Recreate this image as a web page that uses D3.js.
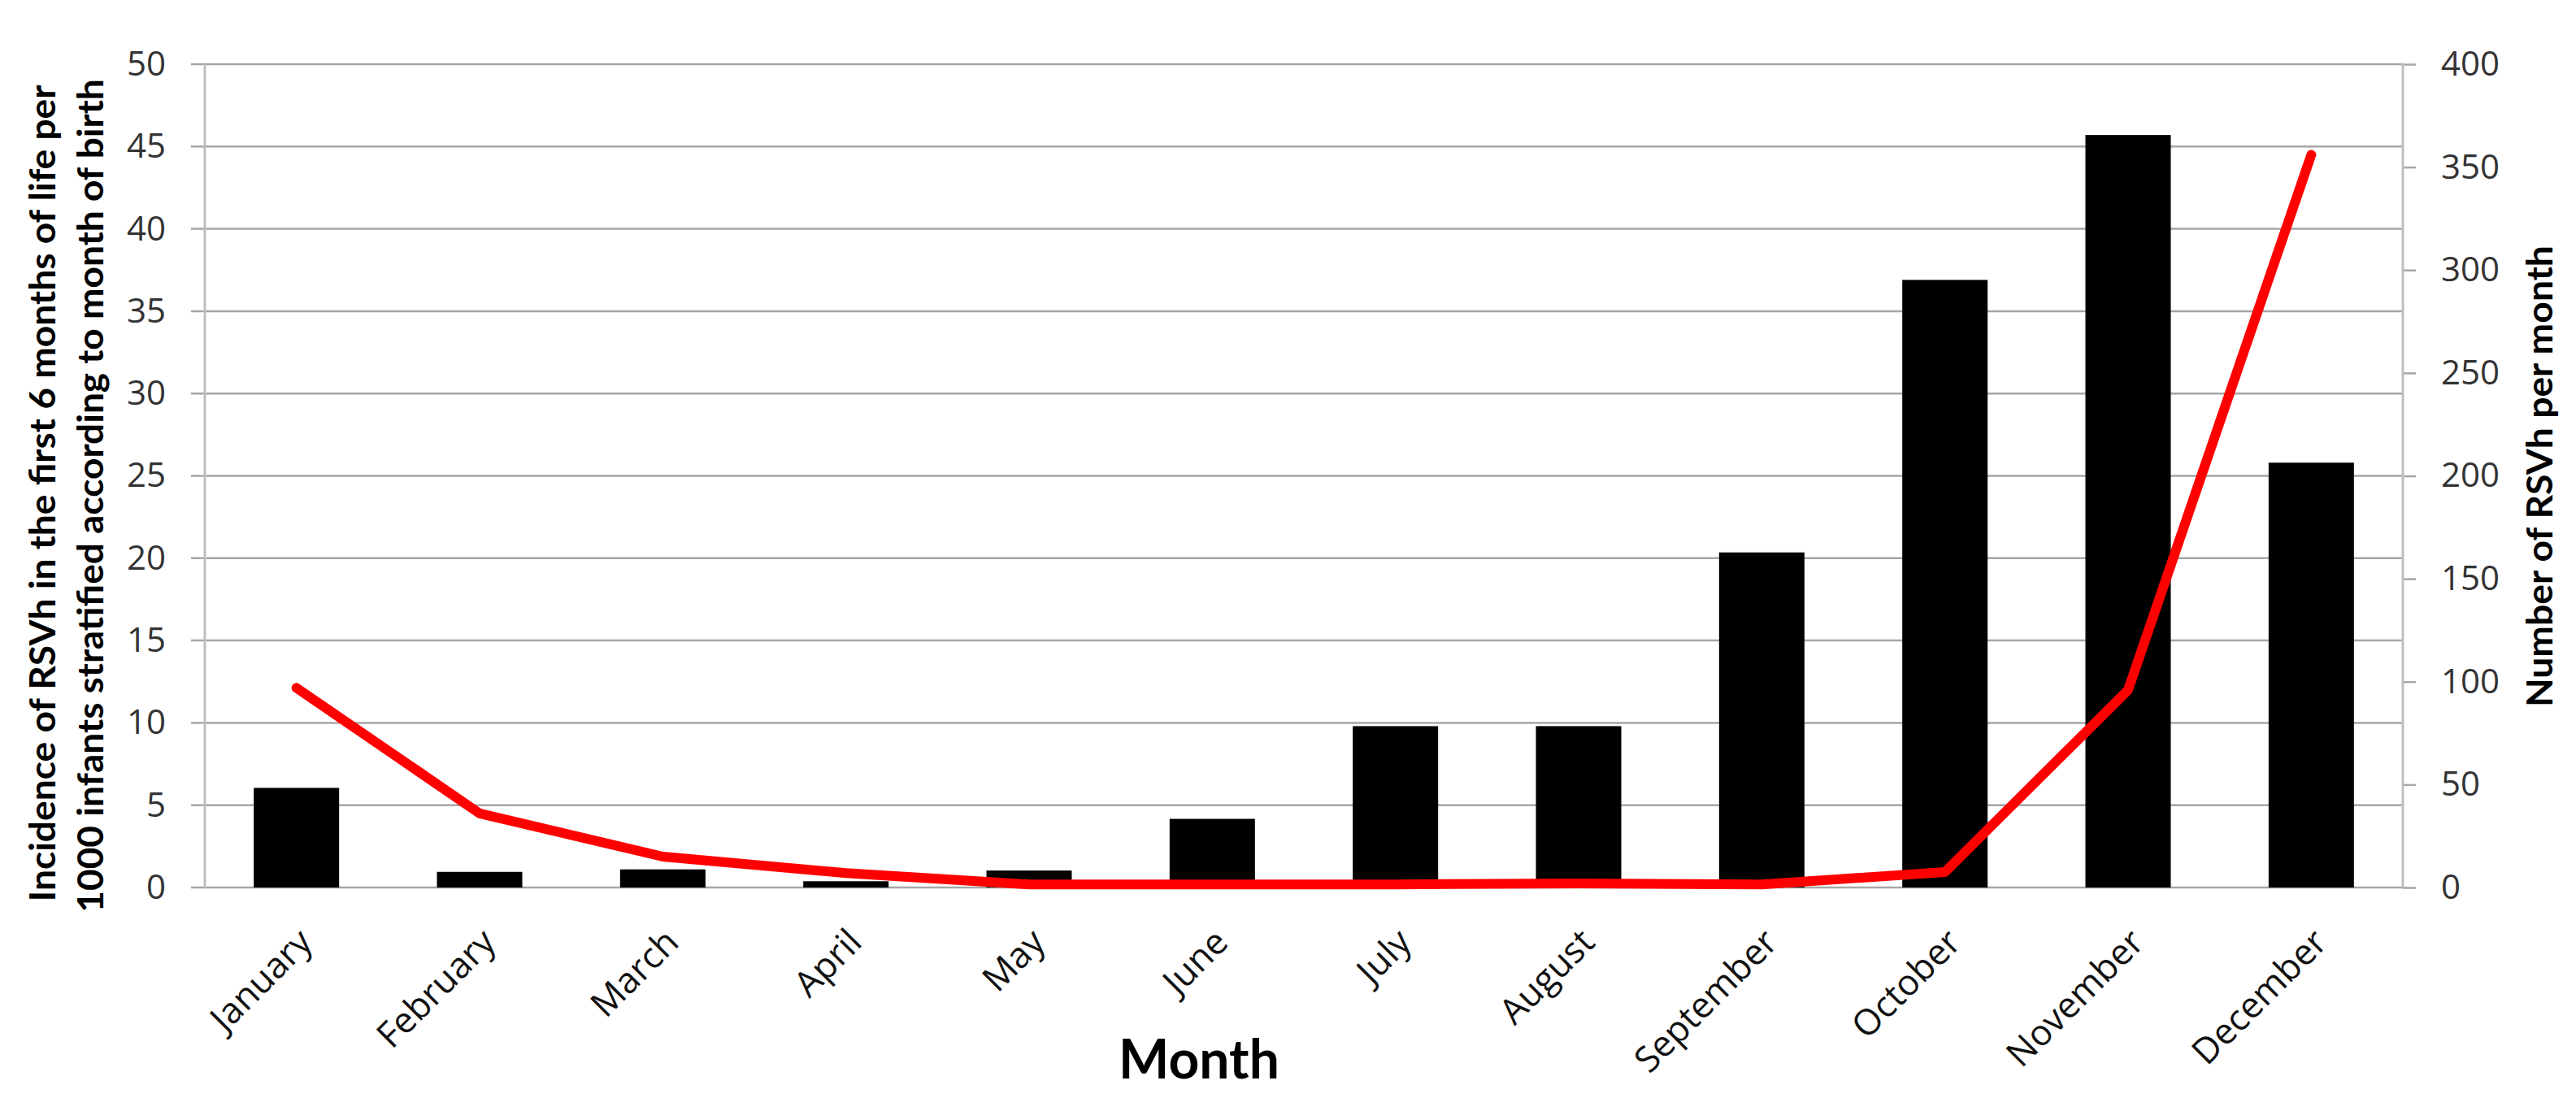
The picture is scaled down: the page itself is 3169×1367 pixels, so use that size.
<!DOCTYPE html>
<meta charset="utf-8">
<title>RSVh by month of birth</title>
<style>
    body {
        margin: 0;
        background: #fff;
    }

    .tick text {
        font-family: "Open Sans";
        font-size: 42px;
        fill: #333;
    }

    .x.axis .tick text {
        font-size: 44px;
        fill: #111;
    }

    .axis-title {
        font-family: Lato;
        font-weight: bold;
        font-size: 44px;
        fill: #000;
    }
</style>

<body>
    <div id="chart"></div>
    <script src="https://d3js.org/d3.v7.min.js"></script>

    <script>
        // values
        var months = ["January", "February", "March", "April", "May", "June",
            "July", "August", "September", "October", "November", "December"];
        var incidence = [6.05, 0.95, 1.1, 0.38, 1.03, 4.17, 9.8, 9.8, 20.35, 36.9, 45.7, 25.8];
        var rsvhCount = [97, 36, 15, 7, 1.5, 1.5, 1.5, 2, 1.5, 7.5, 96, 356];
        var leftTicks = [0, 5, 10, 15, 20, 25, 30, 35, 40, 45, 50];
        var rightTicks = [0, 50, 100, 150, 200, 250, 300, 350, 400];

        var W = 3169,
            H = 1367,
            margin = {
                top: 79,
                right: 213,
                bottom: 275,
                left: 252
            };
        var width = W - margin.left - margin.right,
            height = H - margin.top - margin.bottom;

        var svg = d3.select("#chart")
            .append("svg")
            .attr("width", W)
            .attr("height", H);

        svg.append("rect")
            .attr("width", W)
            .attr("height", H)
            .style("fill", "#fff");

        var g = svg.append("g")
            .attr("transform", `translate(${margin.left},${margin.top})`);

        var x = d3.scaleBand()
            .domain(months)
            .range([0, width])
            .paddingInner(0.534)
            .paddingOuter(0.267);
        var yL = d3.scaleLinear().domain([0, 50]).range([height, 0]);
        var yR = d3.scaleLinear().domain([0, 400]).range([height, 0]);

        // gridlines (with the little outward tick on the left)
        g.selectAll(".grid")
            .data(leftTicks)
            .enter().append("line")
            .attr("class", "grid")
            .attr("x1", -17)
            .attr("x2", width)
            .attr("y1", d => yL(d))
            .attr("y2", d => yL(d))
            .style("stroke", "#a6a6a6")
            .style("stroke-width", 2.5);

        // left axis
        var yAxisL = d3.axisLeft(yL).tickValues(leftTicks).tickSize(17).tickPadding(31);
        g.append("g")
            .attr("class", "y axis")
            .call(yAxisL)
            .call(a => a.select(".domain").remove())
            .call(a => a.selectAll("line").remove());

        // right axis
        var yAxisR = d3.axisRight(yR).tickValues(rightTicks).tickSize(16).tickPadding(31);
        g.append("g")
            .attr("class", "y2 axis")
            .attr("transform", `translate(${width},0)`)
            .call(yAxisR)
            .call(a => a.select(".domain").remove())
            .call(a => a.selectAll("line").style("stroke", "#a6a6a6").style("stroke-width", 2.5));

        // vertical axis lines
        g.append("line")
            .attr("x1", 0).attr("x2", 0)
            .attr("y1", 0).attr("y2", height)
            .style("stroke", "#bfbfbf")
            .style("stroke-width", 3);
        g.append("line")
            .attr("x1", width).attr("x2", width)
            .attr("y1", 0).attr("y2", height)
            .style("stroke", "#bfbfbf")
            .style("stroke-width", 3);

        // bars
        g.selectAll(".bar")
            .data(months)
            .enter().append("rect")
            .attr("class", "bar")
            .attr("x", d => x(d))
            .attr("width", x.bandwidth())
            .attr("y", (d, i) => yL(incidence[i]))
            .attr("height", (d, i) => height - yL(incidence[i]))
            .style("fill", "#000");

        // line on right axis
        var line = d3.line()
            .x((d, i) => x(months[i]) + x.bandwidth() / 2)
            .y(d => yR(d));
        g.append("path")
            .datum(rsvhCount)
            .attr("d", line)
            .style("fill", "none")
            .style("stroke", "#ff0000")
            .style("stroke-width", 12)
            .style("stroke-linejoin", "round")
            .style("stroke-linecap", "round");

        // x axis labels
        var xAxis = d3.axisBottom(x).tickSize(0);
        g.append("g")
            .attr("class", "x axis")
            .attr("transform", `translate(0,${height})`)
            .call(xAxis)
            .call(a => a.select(".domain").remove())
            .selectAll("text")
            .attr("x", 0)
            .attr("y", 0)
            .attr("dy", 0)
            .style("text-anchor", "end")
            .attr("transform", "translate(22,70) rotate(-45)");

        // x axis title
        svg.append("text")
            .attr("x", 1475)
            .attr("y", 1327)
            .style("text-anchor", "middle")
            .style("font-family", "Lato")
            .style("font-weight", "bold")
            .style("font-size", "66px")
            .text("Month");

        // squeeze a title along its own direction to the measured length
        function fit(sel, target) {
            var k = target / sel.node().getComputedTextLength();
            sel.attr("transform", sel.attr("transform") + ` scale(${k},1)`);
        }

        // left axis title (two lines)
        svg.append("text")
            .attr("class", "axis-title")
            .attr("transform", "translate(68,607) rotate(-90)")
            .attr("text-anchor", "middle")
            .text("Incidence of RSVh in the first 6 months of life per")
            .call(fit, 1005);
        svg.append("text")
            .attr("class", "axis-title")
            .attr("transform", "translate(127,610) rotate(-90)")
            .attr("text-anchor", "middle")
            .text("1000 infants stratified according to month of birth")
            .call(fit, 1026);

        // right axis title
        svg.append("text")
            .attr("class", "axis-title")
            .attr("transform", "translate(3140,586) rotate(-90)")
            .attr("text-anchor", "middle")
            .text("Number of RSVh per month")
            .call(fit, 568);
    </script>
</body>
